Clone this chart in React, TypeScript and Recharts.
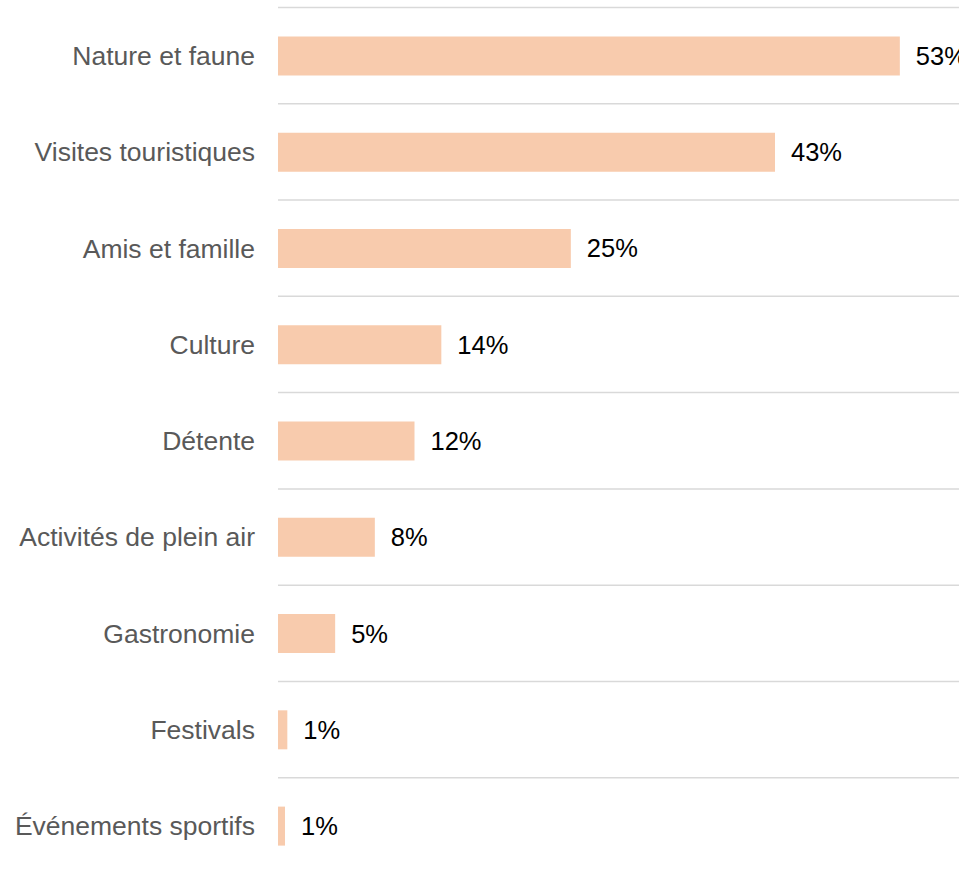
import React from "react";
import { BarChart, Bar, XAxis, YAxis, CartesianGrid, LabelList } from "recharts";

const categories: string[] = [
  "Nature et faune",
  "Visites touristiques",
  "Amis et famille",
  "Culture",
  "Détente",
  "Activités de plein air",
  "Gastronomie",
  "Festivals",
  "Événements sportifs",
];

const shares: number[] = [53.3, 42.6, 25.1, 14.0, 11.7, 8.3, 4.9, 0.8, 0.6];

const xDomain: [number, number] = [0, 60];

const data = categories.map((name, i) => ({ name, value: shares[i] }));

const FONT = "'Liberation Sans', Arial, Helvetica, sans-serif";

export default function App() {
  return (
    <div
      style={{
        position: "fixed",
        left: 0,
        top: 0,
        width: 959,
        height: 869,
        overflow: "hidden",
        background: "#ffffff",
      }}
    >
      <BarChart
        width={1000}
        height={880}
        data={data}
        layout="vertical"
        margin={{ top: 7.5, right: 22, bottom: 6, left: 0 }}
        barCategoryGap="30%"
        style={{ fontFamily: FONT }}
      >
        <CartesianGrid
          vertical={false}
          stroke="#D9D9D9"
          strokeWidth={1.5}
          horizontalCoordinatesGenerator={(props: any) => {
            const off = props.offset;
            const n = categories.length;
            const pts: number[] = [];
            for (let i = 0; i <= n; i++) pts.push(off.top + (i * off.height) / n);
            return pts;
          }}
        />
        <XAxis type="number" domain={xDomain} hide />
        <YAxis
          type="category"
          dataKey="name"
          width={278}
          axisLine={false}
          tickLine={false}
          tickSize={0}
          tickMargin={23}
          interval={0}
          tick={{ fill: "#595959", fontSize: 26.5, fontFamily: FONT }}
        />
        <Bar dataKey="value" fill="#F8CBAD" isAnimationActive={false}>
          <LabelList
            dataKey="value"
            position="right"
            offset={16}
            formatter={(v: any) => `${Math.round(Number(v))}%`}
            style={{ fill: "#000000", fontSize: 25.5, fontFamily: FONT }}
          />
        </Bar>
      </BarChart>
    </div>
  );
}
